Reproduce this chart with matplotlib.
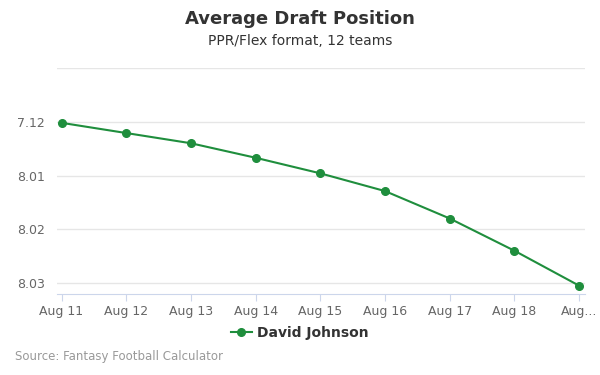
import matplotlib
matplotlib.use('Agg')
import matplotlib.pyplot as plt

# Datos
fechas = ['Aug 11', 'Aug 12', 'Aug 13', 'Aug 14', 'Aug 15', 'Aug 16', 'Aug 17', 'Aug 18', 'Aug...']
adp = [84.02, 84.21, 84.40, 84.67, 84.96, 85.29, 85.80, 86.40, 87.05]
y_ticks = [83, 84, 85, 86, 87]
y_labels = ['', '7.12', '8.01', '8.02', '8.03']

color = '#1f8e3d'

fig = plt.figure(figsize=(6, 3.75), dpi=100)
ax = fig.add_axes([57/600, 1 - 294.3/375, 528/600, (294.3 - 68)/375])

x = list(range(len(fechas)))
ax.plot(x, adp, color=color, lw=1.5, marker='o', ms=5.5, label='David Johnson', zorder=3)

ax.set_xlim(-0.07, 8.09)
ax.set_ylim(87.21, 83)
ax.set_yticks(y_ticks)
ax.set_yticklabels(y_labels)
ax.set_xticks(x)
ax.set_xticklabels(fechas)

ax.grid(axis='y', color='#e6e6e6', lw=1)
ax.set_axisbelow(True)
for s in ['top', 'right', 'left']:
    ax.spines[s].set_visible(False)
ax.spines['bottom'].set_color('#ccd6eb')
ax.tick_params(axis='y', length=0, labelsize=9, labelcolor='#666666', pad=9)
ax.tick_params(axis='x', length=5, color='#ccd6eb', labelsize=9, labelcolor='#666666', pad=3)

fig.text(0.5, 1 - 19/375, 'Average Draft Position', ha='center', va='center',
         fontsize=13, fontweight='bold', color='#333333')
fig.text(0.5, 1 - 41/375, 'PPR/Flex format, 12 teams', ha='center', va='center',
         fontsize=10, color='#333333')

leg = fig.legend(loc='center', bbox_to_anchor=(0.5, 1 - 333/375), frameon=False,
                 prop={'weight': 'bold', 'size': 10}, handlelength=1.5, handletextpad=0.4)
for t in leg.get_texts():
    t.set_color('#333333')

fig.text(15/600, 1 - 356.5/375, 'Source: Fantasy Football Calculator', ha='left', va='center',
         fontsize=8.5, color='#999999')

fig.savefig('out.png', dpi=100)
